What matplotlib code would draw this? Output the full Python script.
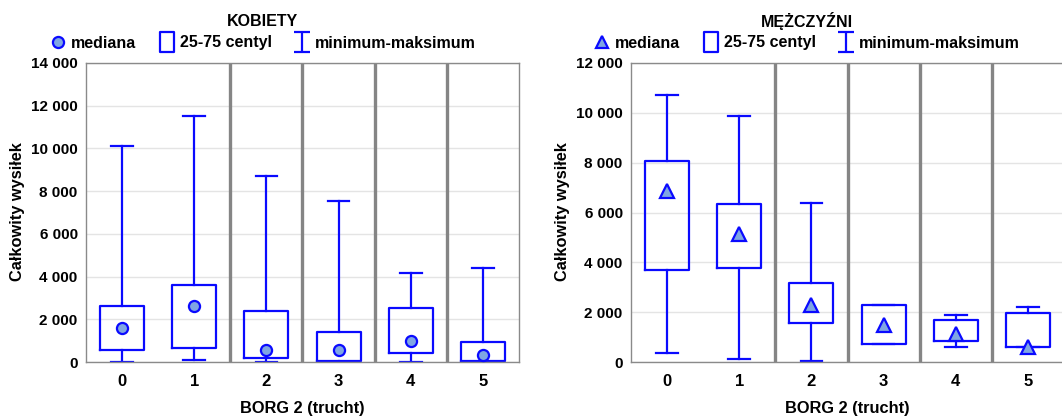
import matplotlib.pyplot as plt
import matplotlib
from matplotlib.path import Path
from matplotlib.lines import Line2D
from matplotlib.ticker import FuncFormatter

matplotlib.rcParams['font.family'] = ['Liberation Sans', 'DejaVu Sans']
matplotlib.rcParams['font.weight'] = 'bold'
matplotlib.rcParams['axes.labelweight'] = 'bold'
matplotlib.rcParams['font.size'] = 11

categories = [0, 1, 2, 3, 4, 5]

# KOBIETY
k_min = [0, 80, 0, 0, 0, 0]
k_q1 = [550, 650, 170, 60, 440, 30]
k_med = [1580, 2620, 580, 580, 970, 340]
k_q3 = [2600, 3600, 2400, 1400, 2540, 950]
k_max = [10100, 11530, 8710, 7520, 4150, 4380]

# MĘŻCZYŹNI
m_min = [360, 120, 50, 730, 590, 590]
m_q1 = [3680, 3790, 1570, 730, 860, 590]
m_med = [6850, 5140, 2280, 1470, 1140, 590]
m_q3 = [8080, 6340, 3160, 2280, 1670, 1950]
m_max = [10700, 9880, 6380, 2280, 1900, 2190]

BLUE = '#0a0aff'
FILL = '#7fa6e3'
W, H = 1062, 416

fig = plt.figure(figsize=(W / 100, H / 100), dpi=100)


def px(x0, y0, x1, y1):
    return [x0 / W, 1 - y1 / H, (x1 - x0) / W, (y1 - y0) / H]


def fmt(v, pos):
    return f'{int(v):,}'.replace(',', ' ')


def panel(rect, mins, q1, med, q3, maxs, ymax, marker, title, tx, ylab_x):
    ax = fig.add_axes(rect)
    stats = []
    for i in range(len(categories)):
        stats.append(dict(whislo=mins[i], q1=q1[i], med=med[i], q3=q3[i], whishi=maxs[i]))
    ax.bxp(stats, positions=categories, widths=0.61, capwidths=0.3, showfliers=False,
           boxprops=dict(color=BLUE, lw=1.6),
           whiskerprops=dict(color=BLUE, lw=1.6),
           capprops=dict(color=BLUE, lw=1.6),
           medianprops=dict(visible=False), manage_ticks=False)
    ax.plot(categories, med, ls='none', marker=marker, ms=8 if marker == 'o' else 10,
            mfc=FILL, mec=BLUE, mew=1.6, zorder=5)
    for xs in [1.5, 2.5, 3.5, 4.5]:
        ax.axvline(xs, color='#858585', lw=2.4, zorder=1)
    ax.set_xlim(-0.5, 5.5)
    ax.set_ylim(0, ymax)
    ax.set_yticks(range(0, ymax + 1, 2000))
    ax.yaxis.set_major_formatter(FuncFormatter(fmt))
    ax.set_xticks(categories)
    ax.set_xticklabels([str(c) for c in categories], fontsize=12)
    ax.tick_params(axis='y', length=0, pad=6, labelsize=11)
    ax.tick_params(axis='x', length=0, pad=9)
    ax.grid(axis='y', color='#e4e4e4', lw=1)
    ax.set_axisbelow(True)
    for s in ax.spines.values():
        s.set_color('#8a8a8a')
        s.set_linewidth(1)
    ax.set_xlabel('BORG 2 (trucht)', fontsize=11.8, fontweight='bold', labelpad=8)
    fig.text(ylab_x / W, 1 - 212 / H, 'Całkowity wysiłek', rotation=90,
             ha='center', va='center', fontsize=11.8, fontweight='bold')
    fig.text(tx / W, 1 - 21 / H, title, ha='center', va='center', fontsize=11.5,
             fontweight='bold')

    rect_path = Path([(-0.35, -0.5), (0.35, -0.5), (0.35, 0.5), (-0.35, 0.5), (-0.35, -0.5)],
                     [Path.MOVETO, Path.LINETO, Path.LINETO, Path.LINETO, Path.CLOSEPOLY])
    i_path = Path([(-0.4, 0.5), (0.4, 0.5), (0, 0.5), (0, -0.5), (-0.4, -0.5), (0.4, -0.5)],
                  [Path.MOVETO, Path.LINETO, Path.MOVETO, Path.LINETO, Path.MOVETO, Path.LINETO])
    handles = [
        Line2D([], [], ls='none', marker=marker, ms=8 if marker == 'o' else 9,
               mfc=FILL, mec=BLUE, mew=1.6),
        Line2D([], [], ls='none', marker=rect_path, ms=15, mfc='none', mec=BLUE, mew=1.6),
        Line2D([], [], ls='none', marker=i_path, ms=14, mfc='none', mec=BLUE, mew=1.6),
    ]
    fig.legend(handles, ['mediana', '25-75 centyl', 'minimum-maksimum'], loc='center',
               bbox_to_anchor=(tx / W, 1 - 43 / H), ncol=3, frameon=False,
               handlelength=1.0, handletextpad=0.3, columnspacing=1.4,
               prop=dict(size=11.5, weight='bold'), borderpad=0)
    return ax


panel(px(86, 63, 519, 362), k_min, k_q1, k_med, k_q3, k_max, 14000, 'o', 'KOBIETY', 263, 18)
panel(px(631, 63, 1064, 362), m_min, m_q1, m_med, m_q3, m_max, 12000, '^', 'MĘŻCZYŹNI', 807, 562)

fig.savefig('out.png', dpi=100)
